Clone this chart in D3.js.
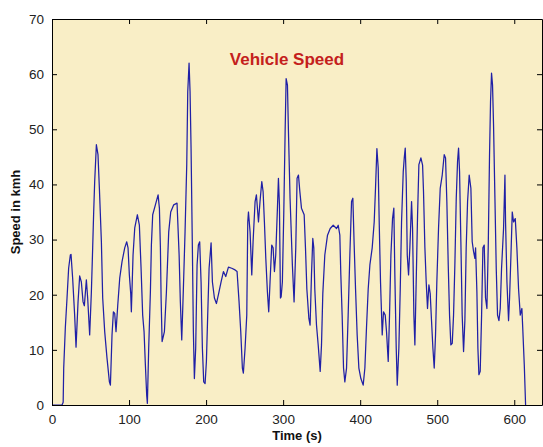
<!DOCTYPE html>
<html>
<head>
<meta charset="utf-8">
<script src="https://cdn.jsdelivr.net/npm/d3@7"></script>
<style>
  body { margin: 0; background: #fff; }
  svg { display: block; }
  .tick text { font-family: Arial, "Liberation Sans", sans-serif; }
</style>
</head>
<body>
<svg id="chart" width="543" height="447"></svg>
<script>
// speed trace, time in s, speed in km/h
var times = [0, 13, 14.5, 15.2, 17.3, 19.5, 21.6, 23.8, 24.7, 26.8, 29.4, 31.2, 33.8, 35.9, 38.1, 40.3, 42, 44.6, 46.3, 47.6,
  48.9, 51.1, 52.8, 54.1, 55.4, 57.6, 59.7, 61.5, 64.1, 65.8, 68.4, 71.4, 74.5, 75.8, 77.9, 79.7, 81.4, 83.1, 85.3, 87.9,
  90.9, 94.4, 97, 98.7, 100.4, 102.2, 103, 105.2, 107.4, 110.8, 113.4, 115.6, 117.7, 119.5, 121.2, 122.9, 123.8, 125.5, 127.7, 129,
  130.7, 134.2, 137.7, 139.4, 140.7, 141.6, 142.9, 145.9, 148.5, 151.5, 154.1, 158, 162.3, 165, 166.6, 168.4, 170.5, 172.7, 174.9, 176.2,
  177.9, 179.2, 180.5, 182.2, 183.5, 184.8, 186.5, 188.3, 190, 191.7, 193.5, 195.2, 196.9, 198.7, 200.4, 202.1, 203.9, 206.5, 208.2, 210.8,
  213.4, 216, 219.4, 222.5, 225.5, 229, 233.3, 237.6, 240.2, 242.8, 245, 247.1, 248.4, 250.6, 252.8, 254.1, 255, 257.1, 259.3, 261,
  263.6, 265.3, 268, 270, 272.3, 274, 275.7, 277.5, 279.6, 281.3, 283, 285.2, 287, 288.7, 290.4, 292.6, 293.9, 295.2, 296.5, 297.4,
  299, 300.8, 302.6, 303.9, 305.6, 306.9, 309, 312, 314.2, 316.4, 318.1, 319.9, 321.7, 323.8, 327.3, 329, 330.8, 333.4, 335, 336.8,
  338.5, 339.8, 341.1, 343.3, 345.5, 348.1, 349.8, 351.5, 354.1, 357.6, 361.1, 365, 369.3, 371.5, 373.6, 374.9, 376.6, 378.4, 380.1, 382.3,
  384.4, 386.6, 388.8, 390.5, 392.2, 394, 396.1, 398.3, 400.9, 403.9, 406.1, 408.2, 410.4, 412.6, 415.6, 418.2, 419.9, 421.7, 423.4, 424.7,
  426.4, 428.6, 430.3, 432.5, 434.2, 436.4, 438.1, 439.9, 442, 443.7, 445, 446.8, 448.1, 450.2, 452, 453.7, 455.9, 457.2, 458.5, 459.8,
  461.1, 462.8, 464.5, 466.7, 468, 469.7, 471, 472.7, 474.5, 476.2, 478.8, 481, 482.2, 484, 485.7, 487.4, 489.2, 490.9, 492.6, 494.4,
  496.1, 497.8, 499.5, 501.7, 503.9, 506.5, 509.1, 510.8, 512.5, 514.3, 516, 517.7, 519.5, 521.2, 522.9, 524.7, 526.4, 527.7, 529, 530.7,
  532.4, 534.2, 535.9, 537.6, 539.4, 541.5, 543.7, 545.4, 547.2, 548.9, 549.8, 551.5, 552.8, 554.1, 555.8, 557.6, 559.3, 561, 562.7, 564.5,
  566.2, 567.9, 569.2, 570.5, 571.8, 573.1, 574.9, 576.6, 578.3, 580.1, 581.8, 583.5, 586.1, 587.9, 588.7, 590.5, 592.6, 593.9, 595.7, 597.4,
  599.1, 601.3, 603.4, 605.6, 607.8, 609.9, 611.2, 613, 614.7];
var speeds = [0, 0, 0.5, 6.7, 14, 19.4, 24.8, 27.2, 27.3, 23, 16.3, 10.5, 18.7, 23.4, 22.3, 18.7, 18, 22.7, 19.4, 16,
  12.7, 20.5, 28.5, 35, 40.5, 47.2, 45.4, 39.3, 29.6, 19.4, 13.3, 8.5, 4.2, 3.6, 12.7, 16.9, 16.6, 13.3, 18, 23,
  26, 28.5, 29.6, 28.5, 23.6, 20.2, 16.9, 27.2, 32.1, 34.5, 32.6, 24.8, 16.3, 13.3, 7.3, 1.8, 0.3, 10.3, 20.5, 29,
  34.5, 36.3, 38.1, 35.7, 28.5, 19.4, 11.5, 13.3, 20.5, 31.4, 35, 36.3, 36.6, 27.2, 18.7, 11.8, 21, 31.4, 43.6, 56.8,
  62, 56.8, 46.5, 28.5, 13.3, 4.8, 10.3, 25.4, 29, 29.6, 22.3, 10.3, 4.2, 3.9, 7.9, 16.3, 24.8, 29.4, 22.3, 19.4,
  18.4, 20, 22.3, 24.2, 23.3, 25, 24.8, 24.5, 24.2, 18.7, 13.3, 6.7, 5.8, 10.3, 16.3, 33.2, 35, 31.4, 23.6, 29.6,
  36.9, 38.1, 33.2, 36.9, 40.5, 38.7, 33.2, 26.6, 20.5, 16.9, 22.3, 29, 28.5, 24.2, 27.2, 35.7, 41.1, 36.3, 19.4, 19.6,
  22.3, 34.5, 49.6, 59.2, 58, 49.6, 37.5, 25.4, 18.7, 28.5, 41.1, 41.7, 38.7, 35.7, 34.5, 28.5, 21, 15.7, 14.5, 23.6,
  30.2, 28.5, 21, 14.5, 10.9, 6.1, 10.9, 20.2, 27.2, 30.8, 32, 32.6, 32, 32.6, 30.8, 23.6, 16.3, 6.7, 4.2, 6.7,
  16.3, 27.2, 36.9, 37.5, 29, 21, 12.7, 6.7, 4.8, 3.6, 6.7, 14, 21, 25.4, 28.5, 33.2, 39.3, 46.5, 43, 33.2,
  22.3, 12.7, 16.9, 16.3, 13.3, 7.9, 16.3, 27.2, 33.8, 35.7, 23.6, 10.3, 3.6, 10.3, 21, 33.2, 42.3, 44.8, 46.6, 40.5,
  27.2, 23.6, 28.5, 36.9, 32, 16.3, 10.9, 22.3, 34.5, 43.6, 44.8, 43.5, 38.7, 28.5, 22.3, 17.5, 21.8, 20.2, 15.3, 10.3,
  6.7, 12.7, 22.3, 32, 39.3, 41.7, 45.4, 44.8, 36.9, 25.4, 16.3, 10.9, 11.2, 16.3, 25.4, 37.5, 44.2, 46.6, 42.3, 29.6,
  16.3, 9.7, 15.3, 28.5, 36.9, 41.7, 39.3, 29.6, 27.8, 26.6, 28.5, 20.5, 10.3, 5.5, 6.1, 16.3, 28.5, 29, 19.4, 17.5,
  28.5, 45.4, 55, 60.2, 58, 50.8, 37.5, 24.8, 16.3, 15.3, 17.5, 24.8, 32, 41.7, 33.2, 22.3, 15.3, 19.4, 27.2, 35,
  33.2, 33.8, 28.5, 21, 16.3, 17.5, 13.3, 7.3, 0];

var xTicks = [0, 100, 200, 300, 400, 500, 600];
var yTicks = [0, 10, 20, 30, 40, 50, 60, 70];
var titleText = "Vehicle Speed";
var xLabel = "Time (s)";
var yLabel = "Speed in kmh";

var svg = d3.select("#chart");
// plot box in pixels (note: "top" is taken by window.top, so prefix them)
var pLeft = 52, pRight = 542, pTop = 19, pBottom = 405;

var x = d3.scaleLinear().domain([0, 636]).range([pLeft, pRight]);
var y = d3.scaleLinear().domain([0, 70]).range([pBottom, pTop]);

// axes background
svg.append("rect")
  .attr("x", pLeft).attr("y", pTop)
  .attr("width", pRight - pLeft).attr("height", pBottom - pTop)
  .attr("fill", "#f9eec6");

// the trace
var pts = times.map(function(t, i) { return [t, speeds[i]]; });
var line = d3.line()
  .x(function(d) { return x(d[0]); })
  .y(function(d) { return y(d[1]); });

svg.append("path")
  .datum(pts)
  .attr("d", line)
  .attr("fill", "none")
  .attr("stroke", "#2020a6")
  .attr("stroke-width", 1.25)
  .attr("stroke-linejoin", "round");

// box with inward ticks on all four sides
function styleAxis(g) {
  g.select(".domain").attr("stroke", "#000");
  g.selectAll(".tick line").attr("stroke", "#000");
  g.selectAll(".tick text").attr("fill", "#222").attr("font-size", "13.5px");
}

svg.append("g")
  .attr("transform", "translate(0," + pBottom + ")")
  .call(d3.axisBottom(x).tickValues(xTicks).tickSize(-5).tickPadding(9).tickSizeOuter(0))
  .call(styleAxis);

svg.append("g")
  .attr("transform", "translate(0," + pTop + ")")
  .call(d3.axisTop(x).tickValues(xTicks).tickSize(-5).tickFormat("").tickSizeOuter(0))
  .call(styleAxis);

svg.append("g")
  .attr("transform", "translate(" + pLeft + ",0)")
  .call(d3.axisLeft(y).tickValues(yTicks).tickSize(-5).tickPadding(8).tickSizeOuter(0))
  .call(styleAxis);

svg.append("g")
  .attr("transform", "translate(" + pRight + ",0)")
  .call(d3.axisRight(y).tickValues(yTicks).tickSize(-5).tickFormat("").tickSizeOuter(0))
  .call(styleAxis);

// title inside the plot
svg.append("text")
  .attr("x", x(305)).attr("y", y(61.6))
  .attr("text-anchor", "middle")
  .attr("font-family", "Arial, 'Liberation Sans', sans-serif")
  .attr("font-weight", "bold")
  .attr("font-size", "17px")
  .attr("fill", "#c4201c")
  .text(titleText);

svg.append("text")
  .attr("x", (pLeft + pRight) / 2).attr("y", 440)
  .attr("text-anchor", "middle")
  .attr("font-family", "Arial, 'Liberation Sans', sans-serif")
  .attr("font-weight", "bold")
  .attr("font-size", "13px")
  .attr("fill", "#111")
  .text(xLabel);

svg.append("text")
  .attr("transform", "translate(20," + (pTop + pBottom) / 2 + ") rotate(-90)")
  .attr("text-anchor", "middle")
  .attr("font-family", "Arial, 'Liberation Sans', sans-serif")
  .attr("font-weight", "bold")
  .attr("font-size", "13px")
  .attr("fill", "#111")
  .text(yLabel);
</script>
</body>
</html>
